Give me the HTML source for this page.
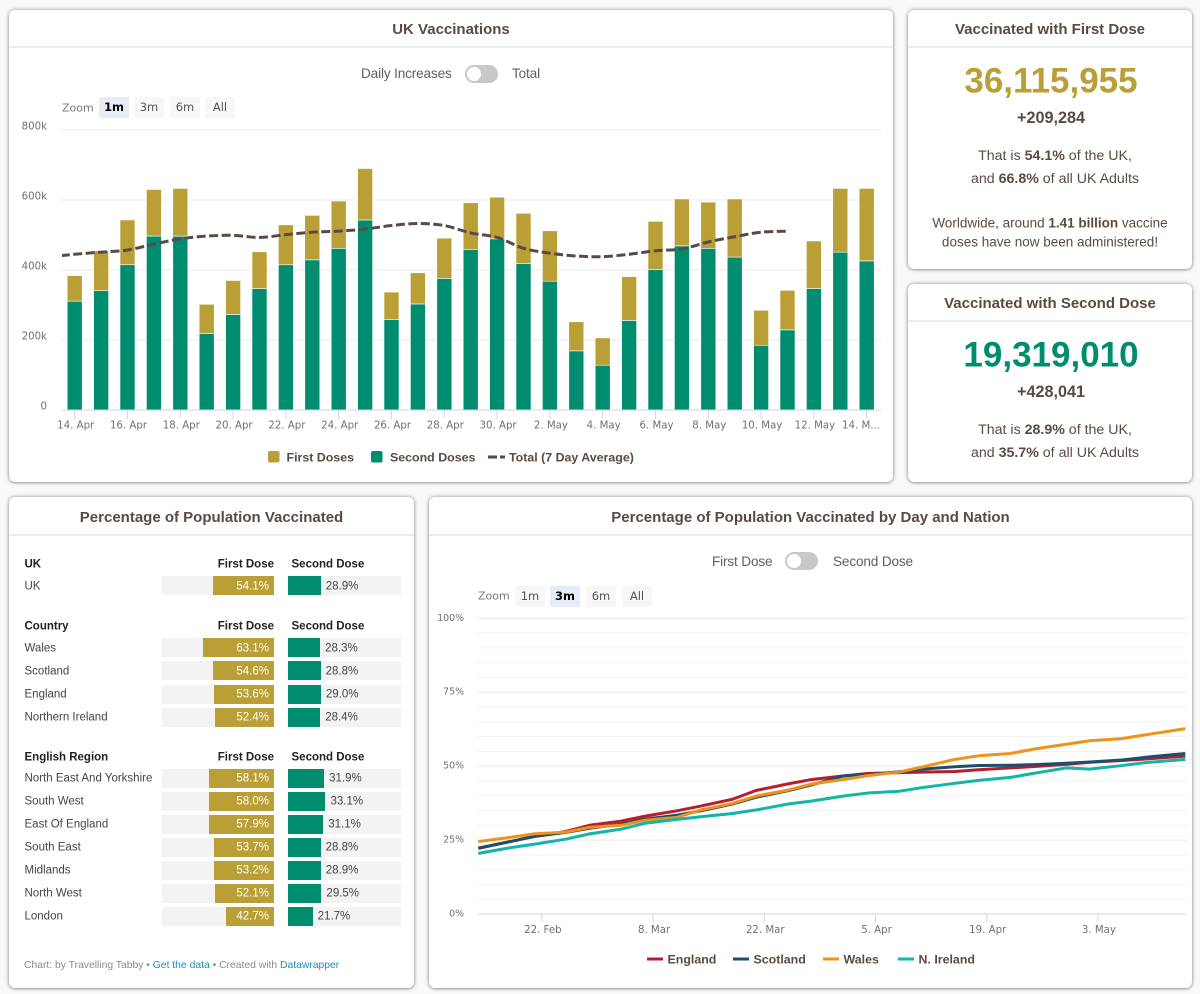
<!DOCTYPE html>
<html lang="en"><head><meta charset="utf-8"><title>UK Vaccinations Dashboard</title>
<style>
html,body{margin:0;padding:0;background:#f9f9f9}
body{width:1200px;height:994px;position:relative;overflow:hidden;font-family:"Liberation Sans",sans-serif;color:#5b4a42}
.card{position:absolute;background:#fff;border-radius:6px;box-shadow:0 0 4px rgba(0,0,0,.4),0 1px 2px rgba(0,0,0,.2)}
.hdr{position:absolute;left:0;right:0;top:0;border-bottom:2px solid #ececec;text-align:center;font:bold 15px "Liberation Sans",sans-serif;color:#5b4a42;box-sizing:border-box}
.t{position:absolute;white-space:nowrap;line-height:1}
.tgl-l{font-size:13.6px;letter-spacing:-.15px;color:#5f5f5f;transform:translateY(-50%)}
.track{position:absolute;width:33px;height:18px;border-radius:9px;background:#c8c8c8}
.knob{position:absolute;left:2px;top:2px;width:14px;height:14px;border-radius:50%;background:#fff}
.zb{position:absolute;height:21px;width:30px;background:#f7f7f7;font:11.5px/21px "DejaVu Sans",sans-serif;color:#555;text-align:center;border-radius:2px}
.zb.on{background:#e6ebf5;color:#000;font-weight:bold}
.zl{font:11px "DejaVu Sans",sans-serif;color:#777;transform:translateY(-50%)}
.stat{font-size:14.2px;color:#5b4a42;transform:translate(-50%,-50%)}
.note{font-size:13.5px}
.big{font-weight:bold;font-size:35px}
.inc{font-weight:bold;font-size:16.2px}
svg{position:absolute;overflow:hidden}
svg text{font-family:"DejaVu Sans",sans-serif}
.tick{font-size:10.2px;fill:#707070}
.tick-pct{font-size:9.4px;fill:#707070}
svg text.lg{font-family:"Liberation Sans",sans-serif;font-size:12.4px;font-weight:bold;fill:#5b4a42}
.th{font-size:11.5px;font-weight:bold;color:#222;transform:translateY(-50%)}
.rl{font-size:11.5px;color:#444;transform:translateY(-50%)}
a{text-decoration:none;color:#1d8cc0}
</style></head>
<body>

<div class="card" style="left:9px;top:10px;width:884px;height:472px">
 <div class="hdr" style="height:38px;line-height:40px">UK Vaccinations</div>
</div>
<div class="card" style="left:908px;top:10px;width:284px;height:259px">
 <div class="hdr" style="height:38px;line-height:40px">Vaccinated with First Dose</div>
</div>
<div class="card" style="left:908px;top:284px;width:284px;height:198px">
 <div class="hdr" style="height:38px;line-height:40px">Vaccinated with Second Dose</div>
</div>
<div class="card" style="left:9px;top:497px;width:405px;height:491px">
 <div class="hdr" style="height:39px;line-height:41px">Percentage of Population Vaccinated</div>
</div>
<div class="card" style="left:429px;top:497px;width:763px;height:491px">
 <div class="hdr" style="height:39px;line-height:41px">Percentage of Population Vaccinated by Day and Nation</div>
</div>

<!-- stat text -->
<div class="t stat big" style="left:1051px;top:81px;color:#b99f35">36,115,955</div>
<div class="t stat inc" style="left:1051px;top:118px">+209,284</div>
<div class="t stat" style="left:1055px;top:156px">That is <b>54.1%</b> of the UK,</div>
<div class="t stat" style="left:1055px;top:179px">and <b>66.8%</b> of all UK Adults</div>
<div class="t stat note" style="left:1050px;top:223px">Worldwide, around <b>1.41 billion</b> vaccine</div>
<div class="t stat note" style="left:1050px;top:242px">doses have now been administered!</div>
<div class="t stat big" style="left:1051px;top:355px;color:#008c6e">19,319,010</div>
<div class="t stat inc" style="left:1051px;top:392px">+428,041</div>
<div class="t stat" style="left:1055px;top:430px">That is <b>28.9%</b> of the UK,</div>
<div class="t stat" style="left:1055px;top:453px">and <b>35.7%</b> of all UK Adults</div>

<!-- chart 1 controls -->
<div class="t tgl-l" style="left:361px;top:74px">Daily Increases</div>
<div class="track" style="left:465px;top:65px"><div class="knob"></div></div>
<div class="t tgl-l" style="left:512px;top:74px">Total</div>
<div class="t zl" style="left:62px;top:108px">Zoom</div>
<div class="zb on" style="left:99px;top:97px">1m</div>
<div class="zb" style="left:134px;top:97px">3m</div>
<div class="zb" style="left:170px;top:97px">6m</div>
<div class="zb" style="left:205px;top:97px">All</div>

<!-- chart 2 controls -->
<div class="t tgl-l" style="left:712px;top:562px">First Dose</div>
<div class="track" style="left:785px;top:552px"><div class="knob"></div></div>
<div class="t tgl-l" style="left:833px;top:562px">Second Dose</div>
<div class="t zl" style="left:478px;top:596px">Zoom</div>
<div class="zb" style="left:515px;top:586px">1m</div>
<div class="zb on" style="left:550px;top:586px">3m</div>
<div class="zb" style="left:586px;top:586px">6m</div>
<div class="zb" style="left:622px;top:586px">All</div>

<svg id="daily" style="left:10px;top:118px" width="882" height="362" viewBox="10 118 882 362"></svg>
<svg id="nation" style="left:430px;top:610px" width="761" height="377" viewBox="430 610 761 377"></svg>
<div id="table"></div>

<div class="t" style="left:24px;top:961px;font-size:10.35px;color:#8a8a8a">Chart: by Travelling Tabby • <a href="#">Get the data</a> • Created with <a href="#">Datawrapper</a></div>

<script>
/* ---- Daily chart data (thousands of doses) ---- */
const dayLabels = ['14. Apr','15. Apr','16. Apr','17. Apr','18. Apr','19. Apr','20. Apr','21. Apr','22. Apr','23. Apr','24. Apr','25. Apr','26. Apr','27. Apr','28. Apr','29. Apr','30. Apr','1. May','2. May','3. May','4. May','5. May','6. May','7. May','8. May','9. May','10. May','11. May','12. May','13. May','14. M...'];
const secondDoses = [311,341,415,497,497,218,273,347,415,429,462,543,259,303,376,459,489,418,368,169,128,256,401,469,462,437,185,229,347,451,426];
const firstDoses = [73,114,128,133,136,84,97,105,114,127,135,147,78,89,115,133,119,144,144,83,78,125,138,134,132,166,100,113,136,182,207];
/* 7-day average starts one day before the first bar (13 Apr) and ends on 11 May */
const averageDoses = [437,445,451,457,474,489,497,499,493,501,508,511,517,527,533,527,506,493,462,448,440,438,445,455,460,480,495,508,511];
const dailyYTicks = [0,200,400,600,800];
const dailyYLabels = ['0','200k','400k','600k','800k'];

/* ---- Nation chart data (% of population) ---- */
const nationDays = [0,4,7,11,14,18,21,25,28,32,35,39,42,46,49,53,56,60,63,67,70,74,77,81,84,89];
const england = [22.2,24.5,26.2,27.9,30.0,31.4,33.1,34.9,36.5,38.8,41.8,44.0,45.5,46.7,47.5,47.8,48.0,48.2,48.8,49.4,49.9,50.6,51.3,51.9,52.4,53.4];
const scotland = [22.3,24.5,26.2,27.6,29.0,30.4,32.1,33.4,34.9,37.2,39.5,41.7,43.7,46.7,47.1,48.1,49.0,49.8,50.2,50.3,50.5,51.0,51.4,52.1,53.0,54.3];
const wales = [24.5,25.9,27.1,27.7,29.3,30.0,31.7,32.7,35.2,37.4,39.9,41.9,44.0,45.5,46.8,48.0,49.8,52.3,53.5,54.3,55.8,57.4,58.6,59.3,60.6,62.7];
const nIreland = [20.5,22.4,23.6,25.3,27.1,28.7,30.7,32.0,32.9,34.0,35.2,37.2,38.2,39.9,40.9,41.5,42.8,44.2,45.2,46.2,47.6,49.4,49.0,50.2,51.2,52.3];
const nationGrid = [0,5,10,15,20,25,30,35,40,45,50,55,60,65,70,75,80,85,90,95,100];
const nationYTicks = [0,25,50,75,100];
const nationYLabels = ['0%','25%','50%','75%','100%'];
const nationXTicks = [8,22,36,50,64,78];
const nationXLabels = ['22. Feb','8. Mar','22. Mar','5. Apr','19. Apr','3. May'];

/* ---- Table data ---- */
const ukRows = ['UK'];
const ukFirst = [54.1];
const ukSecond = [28.9];
const countryRows = ['Wales','Scotland','England','Northern Ireland'];
const countryFirst = [63.1,54.6,53.6,52.4];
const countrySecond = [28.3,28.8,29.0,28.4];
const regionRows = ['North East And Yorkshire','South West','East Of England','South East','Midlands','North West','London'];
const regionFirst = [58.1,58.0,57.9,53.7,53.2,52.1,42.7];
const regionSecond = [31.9,33.1,31.1,28.8,28.9,29.5,21.7];

const NS = 'http://www.w3.org/2000/svg';
function svgEl(parent, tag, attrs, text) {
  const e = document.createElementNS(NS, tag);
  for (const k in attrs) e.setAttribute(k, attrs[k]);
  if (text !== undefined) e.textContent = text;
  parent.appendChild(e);
  return e;
}

/* ---------- daily chart ---------- */
const daily = document.getElementById('daily');
const x1 = i => 74.7 + i * 26.4;
const y1 = v => 410 - v * 0.35;
const defs = svgEl(daily, 'defs', {});
const clip = svgEl(defs, 'clipPath', {id: 'plot-clip'});
svgEl(clip, 'rect', {x: 62, y: 120, width: 820, height: 300});

dailyYTicks.forEach((v, i) => {
  if (v > 0) {
    const g = svgEl(daily, 'line', {x1: 62, x2: 881, y1: y1(v), y2: y1(v), stroke: '#e9e9e9', 'stroke-width': 1});
    
    
  }
  const t = svgEl(daily, 'text', {x: 47, y: y1(v) - 0.5, 'text-anchor': 'end', class: 'tick'}, dailyYLabels[i]);
  
  
});

dayLabels.forEach((lab, i) => {
  const bw = 15;
  const s = svgEl(daily, 'rect', {x: x1(i) - bw / 2, y: y1(secondDoses[i]), width: bw, height: secondDoses[i] * 0.35, fill: '#008c6e', stroke: '#fff', 'stroke-width': 0.6});
  
  
  const f = svgEl(daily, 'rect', {x: x1(i) - bw / 2, y: y1(secondDoses[i] + firstDoses[i]), width: bw, height: firstDoses[i] * 0.35, fill: '#b99f35', stroke: '#fff', 'stroke-width': 0.6});
  
  
  if (i % 2 === 0) {
    const k = svgEl(daily, 'line', {x1: x1(i), x2: x1(i), y1: 410, y2: 419, stroke: '#ccd6eb'});
    
    
    const last = i === dayLabels.length - 1;
    const t = svgEl(daily, 'text', {x: last ? 880 : x1(i) + 1, y: 428.5, 'text-anchor': last ? 'end' : 'middle', class: 'tick'}, lab);
    
    
  }
});
const ax1 = svgEl(daily, 'line', {x1: 62, x2: 881, y1: 410, y2: 410, stroke: '#ccd6eb'});



function spline(pts) {
  let d = 'M' + pts[0][0] + ' ' + pts[0][1];
  for (let i = 0; i < pts.length - 1; i++) {
    const p0 = pts[Math.max(i - 1, 0)], p1 = pts[i], p2 = pts[i + 1], p3 = pts[Math.min(i + 2, pts.length - 1)];
    d += ' C' + (p1[0] + (p2[0] - p0[0]) / 6) + ' ' + (p1[1] + (p2[1] - p0[1]) / 6) + ' ' + (p2[0] - (p3[0] - p1[0]) / 6) + ' ' + (p2[1] - (p3[1] - p1[1]) / 6) + ' ' + p2[0] + ' ' + p2[1];
  }
  return d;
}
const avgPath = svgEl(daily, 'path', {d: spline(averageDoses.map((v, i) => [x1(i - 1), y1(v)])), fill: 'none', stroke: '#5a4a46', 'stroke-width': 3, 'stroke-dasharray': '9 3.5', 'clip-path': 'url(#plot-clip)'});



/* legend */
const sw1 = svgEl(daily, 'rect', {x: 268, y: 451, width: 11.5, height: 11.5, rx: 2, fill: '#b99f35'});


const lg1 = svgEl(daily, 'text', {x: 286.5, y: 461.5, class: 'lg'}, 'First Doses');


const sw2 = svgEl(daily, 'rect', {x: 371, y: 451, width: 11.5, height: 11.5, rx: 2, fill: '#008c6e'});


const lg2 = svgEl(daily, 'text', {x: 390, y: 461.5, class: 'lg'}, 'Second Doses');


const sw3 = svgEl(daily, 'line', {x1: 488, x2: 505, y1: 457, y2: 457, stroke: '#5a4a46', 'stroke-width': 3, 'stroke-dasharray': '9 3'});


const lg3 = svgEl(daily, 'text', {x: 509, y: 461.5, class: 'lg'}, 'Total (7 Day Average)');



/* ---------- nation chart ---------- */
const nation = document.getElementById('nation');
const x2 = d => 478.3 + 7.944 * d;
const y2 = v => 914 - v * 2.957;
nationGrid.forEach(v => {
  if (v === 0) return;
  const g = svgEl(nation, 'line', {x1: 478, x2: 1186, y1: y2(v), y2: y2(v), stroke: v % 25 === 0 ? '#e8e8e8' : '#f3f3f3', 'stroke-width': 1});
  
  
});
nationYTicks.forEach((v, i) => {
  const t = svgEl(nation, 'text', {x: 464, y: y2(v) + 2.5, 'text-anchor': 'end', class: 'tick-pct'}, nationYLabels[i]);
  
  
});
const ax2 = svgEl(nation, 'line', {x1: 478, x2: 1186, y1: 914, y2: 914, stroke: '#ccd6eb'});


nationXTicks.forEach((d, i) => {
  const k = svgEl(nation, 'line', {x1: x2(d), x2: x2(d), y1: 914, y2: 922, stroke: '#ccd6eb'});
  
  
  const t = svgEl(nation, 'text', {x: x2(d) + 1, y: 933, 'text-anchor': 'middle', class: 'tick'}, nationXLabels[i]);
  
  
});
function nationLine(values, color, name) {
  const p = svgEl(nation, 'polyline', {points: values.map((v, i) => x2(nationDays[i]) + ',' + y2(v)).join(' '), fill: 'none', stroke: color, 'stroke-width': 3, 'stroke-linejoin': 'round'});
  
  
}
nationLine(england, '#b81d2c', 'england-line');
nationLine(scotland, '#1b4f6d', 'scotland-line');
nationLine(wales, '#f0921a', 'wales-line');
nationLine(nIreland, '#12b5a6', 'n-ireland-line');

function nationLegend(x0, color, label, name) {
  const l = svgEl(nation, 'line', {x1: x0, x2: x0 + 16, y1: 959, y2: 959, stroke: color, 'stroke-width': 3});
  
  
  const t = svgEl(nation, 'text', {x: x0 + 20.5, y: 963.5, class: 'lg'}, label);
  
  
}
nationLegend(647, '#b81d2c', 'England', 'legend-england');
nationLegend(733, '#1b4f6d', 'Scotland', 'legend-scotland');
nationLegend(823, '#f0921a', 'Wales', 'legend-wales');
nationLegend(898, '#12b5a6', 'N. Ireland', 'legend-n-ireland');

/* ---------- table ---------- */
const table = document.getElementById('table');
function div(css, cls, text) {
  const e = document.createElement('div');
  e.style.cssText = 'position:absolute;' + css;
  if (cls) e.className = cls;
  if (text !== undefined) e.textContent = text;
  table.appendChild(e);
  return e;
}
const FW = 1.123, tL1 = 161.7, tR1 = 274, tL2 = 288.3, tW = 112.3;
function tableGroup(title, headerY, rowYs, names, first, second) {
  const h = div('left:24.5px;top:' + (headerY + 1) + 'px', 't th', title);
  
  
  const h1 = div('right:' + (1200 - tR1) + 'px;top:' + (headerY + 1) + 'px', 't th', 'First Dose');
  
  
  const h2 = div('left:291.5px;top:' + (headerY + 1) + 'px', 't th', 'Second Dose');
  
  
  names.forEach((n, i) => {
    const y = rowYs[i];
    const lab = div('left:24.5px;top:' + (y + 10.5) + 'px', 't rl', n);
    
    
    const t1 = div('left:' + tL1 + 'px;top:' + y + 'px;width:' + tW + 'px;height:19px;background:#f3f3f3');
    
    
    const b1w = first[i] * FW;
    const b1 = div('left:' + (tR1 - b1w) + 'px;top:' + y + 'px;width:' + b1w + 'px;height:19px;background:#b99f35');
    
    
    const v1 = div('right:' + (1200 - tR1 + 5) + 'px;top:' + (y + 10.5) + 'px', 't rl', first[i].toFixed(1) + '%');
    v1.style.color = '#fff';
    
    
    const t2 = div('left:' + tL2 + 'px;top:' + y + 'px;width:' + tW + 'px;height:19px;background:#f3f3f3');
    
    
    const b2w = second[i] * FW;
    const b2 = div('left:' + tL2 + 'px;top:' + y + 'px;width:' + b2w + 'px;height:19px;background:#008c6e');
    
    
    const v2 = div('left:' + (tL2 + b2w + 5) + 'px;top:' + (y + 10.5) + 'px', 't rl', second[i].toFixed(1) + '%');
    
    
  });
}
tableGroup('UK', 564, [576], ukRows, ukFirst, ukSecond);
tableGroup('Country', 626, [638, 661.3, 684.5, 707.7], countryRows, countryFirst, countrySecond);
tableGroup('English Region', 757, [768.7, 791.7, 814.7, 837.7, 860.7, 883.7, 906.7], regionRows, regionFirst, regionSecond);
</script>
</body></html>
